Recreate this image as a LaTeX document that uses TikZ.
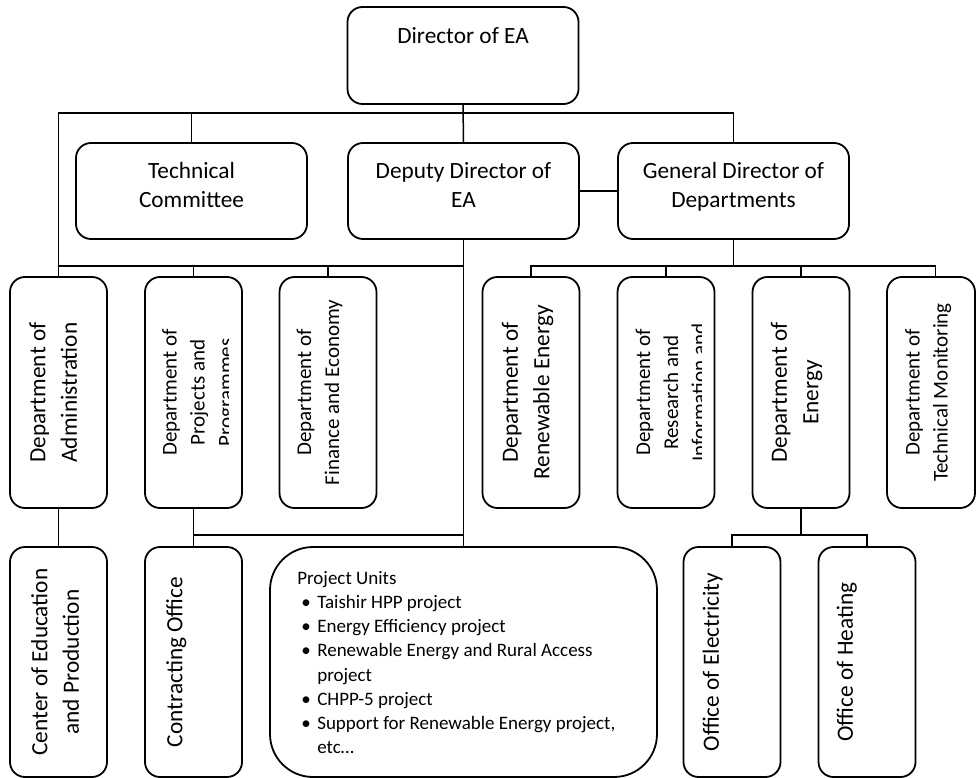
\documentclass[tikz,border=0pt]{standalone}
\usepackage{fontspec}
\setmainfont{Carlito}
\newcommand{\unititem}{\hspace*{4pt}\makebox[16pt][l]{\textbullet}}
\newcommand{\unitcont}{\hspace*{20pt}}
\tikzset{
  hbox/.style={draw, line width=1.8pt, rounded corners=15pt, inner sep=0pt,
    minimum width=231pt, minimum height=96pt},
  vbox/.style={hbox, minimum width=97pt, minimum height=231pt},
  link/.style={line width=1.5pt},
  htext/.style={anchor=north, align=center, inner sep=0pt, font=\fontsize{23.3}{29}\selectfont},
  vtext/.style={rotate=90, anchor=north, align=center, inner sep=0pt, font=\fontsize{23.3}{31.5}\selectfont},
  vsmall/.style={vtext, font=\fontsize{21}{28}\selectfont}
}
\begin{document}
\begin{tikzpicture}[x=1pt,y=-1pt]
  \useasboundingbox (0,0) rectangle (976,778);
  \node[hbox, minimum height=97pt] (dir) at (463,55.5) {};
  \node[hbox] (tc) at (191.5,191) {};
  \node[hbox] (dep) at (463.5,191) {};
  \node[hbox] (gen) at (733.5,191) {};
  \node[vbox] (adm) at (58.5,392.5) {};
  \node[vbox] (prj) at (193.5,392.5) {};
  \node[vbox] (fin) at (328,392.5) {};
  \node[vbox] (ren) at (531,392.5) {};
  \node[vbox] (res) at (666,392.5) {};
  \node[vbox] (ene) at (801,392.5) {};
  \node[vbox, minimum width=88pt] (mon) at (931,392.5) {};
  \node[vbox, minimum height=230pt] (edu) at (58.5,662) {};
  \node[vbox, minimum height=230pt] (con) at (193.5,662) {};
  \node[hbox, rounded corners=43pt, minimum width=387pt, minimum height=230pt] (pu) at (463.5,662) {};
  \node[vbox, minimum height=230pt] (ele) at (732,662) {};
  \node[vbox, minimum height=230pt] (hea) at (867,662) {};

  \node[htext] (dirtxt) at ([yshift=-21pt]dir.north) {Director of EA};
  \node[htext] (tctxt) at ([yshift=-20pt]tc.north) {Technical\\Committee};
  \node[htext] (deptxt) at ([yshift=-20pt]dep.north) {Deputy Director of\\EA};
  \node[htext] (gentxt) at ([yshift=-20pt]gen.north) {General Director of\\Departments};

  \node[vtext] (admtxt) at ([xshift=20pt]adm.west) {Department of\\Administration};
  \begin{scope}
    \clip (prj.north west) rectangle ([xshift=-14pt]prj.south east);
    \node[vsmall] (prjtxt) at ([xshift=18pt]prj.west) {Department of\\Projects and\\Programmes};
  \end{scope}
  \node[vsmall] (fintxt) at ([xshift=18pt]fin.west) {Department of\\Finance and Economy};
  \node[vtext] (rentxt) at ([xshift=20pt]ren.west) {Department of\\Renewable Energy};
  \begin{scope}
    \clip (res.north west) rectangle ([xshift=-14pt]res.south east);
    \node[vsmall] (restxt) at ([xshift=19pt]res.west) {Department of\\Research and\\Information and};
  \end{scope}
  \node[vtext] (enetxt) at ([xshift=19pt]ene.west) {Department of\\Energy};
  \node[vsmall] (montxt) at ([xshift=19pt]mon.west) {Department of\\Technical Monitoring};

  \node[vtext] (edutxt) at ([xshift=22pt]edu.west) {Center of Education\\and Production};
  \node[vtext] (contxt) at ([xshift=22pt]con.west) {Contracting Office};
  \node[vtext] (eletxt) at ([xshift=20pt]ele.west) {Office of Electricity};
  \node[vtext] (heatxt) at ([xshift=19pt]hea.west) {Office of Heating};
  \node[anchor=north west, align=left, inner sep=0pt, font=\fontsize{19}{24.2}\selectfont] (putxt)
    at ([xshift=28pt,yshift=-25pt]pu.north west) {Project Units\\
    \unititem Taishir HPP project\\
    \unititem Energy Efficiency project\\
    \unititem Renewable Energy and Rural Access\\
    \unitcont project\\
    \unititem CHPP-5 project\\
    \unititem Support for Renewable Energy project,\\
    \unitcont etc…};

  \coordinate (topbus) at (0,113);
  \coordinate (midbus) at (0,266);
  \coordinate (lowbus) at (0,535);
  \draw[link] (dir.south) -- (dep.north);
  \draw[link] (adm.north) -- (adm.north |- topbus) -| (gen.north);
  \draw[link] (tc.north) -- (tc.north |- topbus);
  \draw[link] (dep.east) -- (gen.west);
  \draw[link] (dep.south) -- (pu.north);
  \draw[link] (adm.north |- midbus) -- (dep.south |- midbus);
  \draw[link] (prj.north) -- (prj.north |- midbus);
  \draw[link] (fin.north) -- (fin.north |- midbus);
  \draw[link] (gen.south) -- (gen.south |- midbus);
  \draw[link] (ren.north) -- (ren.north |- midbus) -- ([xshift=4.5pt]mon.north |- midbus) -- ([xshift=4.5pt]mon.north);
  \draw[link] (res.north) -- (res.north |- midbus);
  \draw[link] (ene.north) -- (ene.north |- midbus);
  \draw[link] (adm.south) -- (edu.north);
  \draw[link] (prj.south) -- (con.north);
  \draw[link] (con.north |- lowbus) -- (dep.south |- lowbus);
  \draw[link] (ene.south) -- (ene.south |- lowbus);
  \draw[link] (ele.north) -- (ele.north |- lowbus) -| (hea.north);
\end{tikzpicture}
\end{document}
